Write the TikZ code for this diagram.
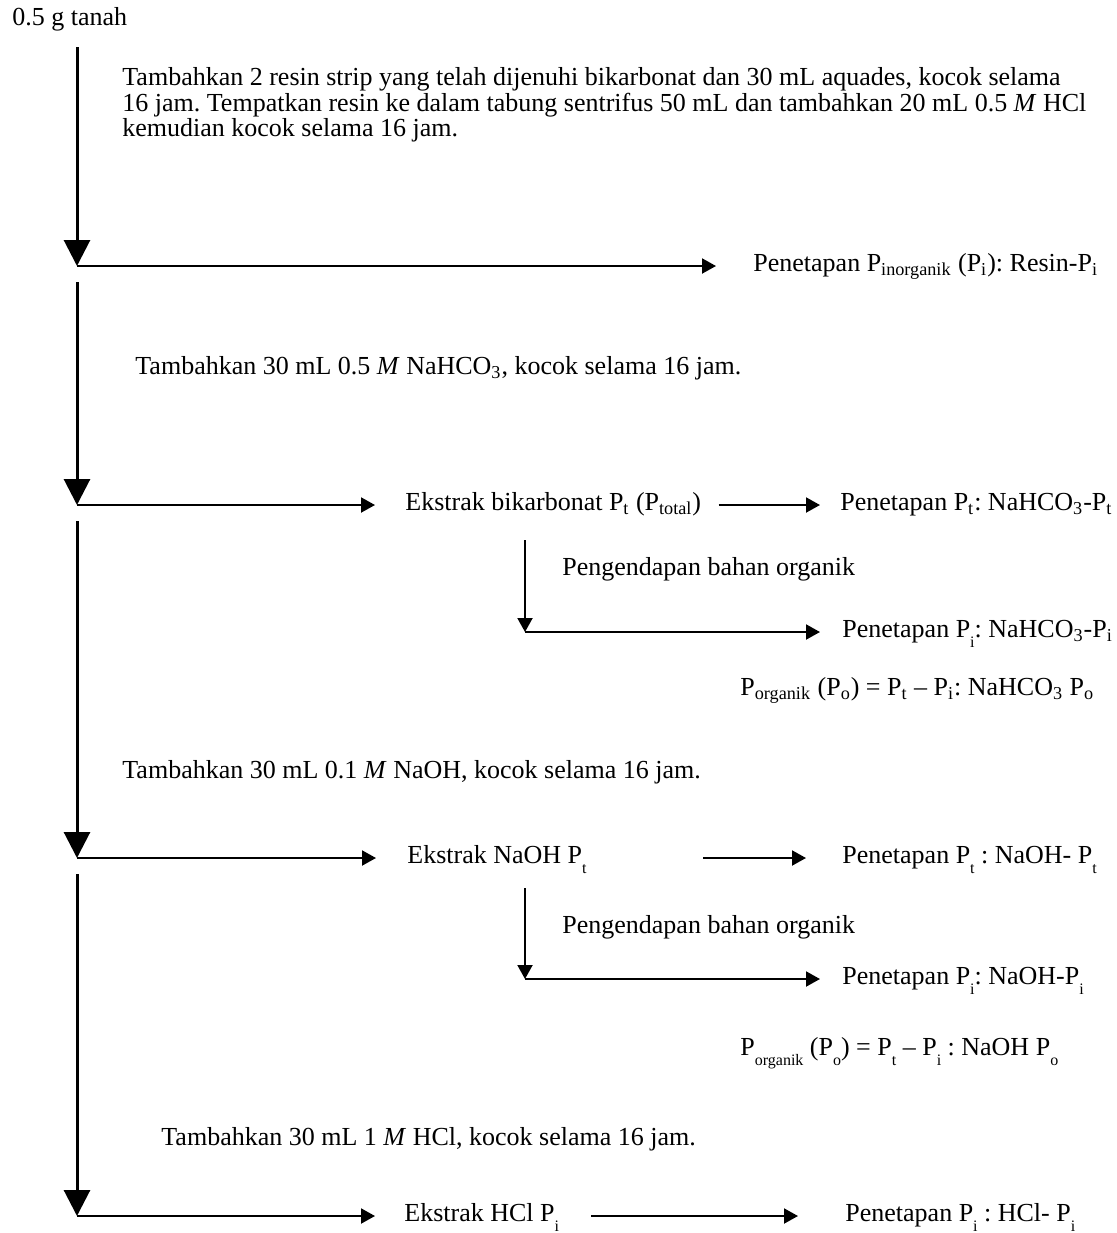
\documentclass[tikz,border=0pt]{standalone}
\usepackage{fontspec}
\setmainfont{Liberation Serif}
\usetikzlibrary{arrows.meta, positioning}
\frenchspacing

\newcommand{\lsub}[1]{\raisebox{-0.8ex}{\footnotesize #1}}

\begin{document}
\begin{tikzpicture}[
  x=0.5pt, y=-0.5pt,
  txt/.style={anchor=west, inner sep=0pt, font=\fontsize{13pt}{12.5pt}\selectfont, text height=8.5pt, text depth=3pt},
  para/.style={anchor=west, inner sep=0pt, align=left, font=\fontsize{13pt}{12.7pt}\selectfont},
  mainarrow/.style={line width=1.5pt, -{Triangle[width=13pt, length=13pt]}},
  arrow/.style={line width=1pt, -{Triangle[width=7.5pt, length=7pt]}}
]
\useasboundingbox (0,0) rectangle (1117,1233);

% Nodes
\node[txt] (soil) at (12,20) {0.5 g tanah};
\node[para] (addresin) at (122,105) {Tambahkan 2 resin strip yang telah dijenuhi bikarbonat dan 30 mL aquades, kocok selama\\16 jam. Tempatkan resin ke dalam tabung sentrifus 50 mL dan tambahkan 20 mL 0.5 \textit{M} HCl\\kemudian kocok selama 16 jam.};
\node[txt] (resinpi) at (753,266) {Penetapan P\textsubscript{inorganik} (P\textsubscript{i}): Resin-P\textsubscript{i}};
\node[txt] (addbic) at (135,369) {Tambahkan 30 mL 0.5 \textit{M} NaHCO\textsubscript{3}, kocok selama 16 jam.};
\node[txt] (bic) at (405,505) {Ekstrak bikarbonat P\textsubscript{t} (P\textsubscript{total})};
\node[txt] (bicpt) at (840,505) {Penetapan P\textsubscript{t}: NaHCO\textsubscript{3}-P\textsubscript{t}};
\node[txt] (precbic) at (562,570) {Pengendapan bahan organik};
\node[txt] (bicpi) at (842,632) {Penetapan P\lsub{i}: NaHCO\textsubscript{3}-P\textsubscript{i}};
\node[txt] (bicpo) at (740,690) {P\textsubscript{organik} (P\textsubscript{o}) = P\textsubscript{t} -- P\textsubscript{i}: NaHCO\textsubscript{3} P\textsubscript{o}};
\node[txt] (addnaoh) at (122,773) {Tambahkan 30 mL 0.1 \textit{M} NaOH, kocok selama 16 jam.};
\node[txt] (naoh) at (407,858) {Ekstrak NaOH P\lsub{t}};
\node[txt] (naohpt) at (842,858) {Penetapan P\lsub{t} : NaOH- P\lsub{t}};
\node[txt] (precnaoh) at (562,928) {Pengendapan bahan organik};
\node[txt] (naohpi) at (842,979) {Penetapan P\lsub{i}: NaOH-P\lsub{i}};
\node[txt] (naohpo) at (740,1050) {P\lsub{organik} (P\lsub{o}) = P\lsub{t} -- P\lsub{i} : NaOH P\lsub{o}};
\node[txt] (addhcl) at (161,1140) {Tambahkan 30 mL 1 \textit{M} HCl, kocok selama 16 jam.};
\node[txt] (hcl) at (404,1216) {Ekstrak HCl P\lsub{i}};
\node[txt] (hclpi) at (845,1216) {Penetapan P\lsub{i} : HCl- P\lsub{i}};

% Corners
\coordinate (m1) at (77,47);
\coordinate (k1) at (77,266);
\coordinate (m2) at (77,282);
\coordinate (k2) at (77,505);
\coordinate (m3) at (77,521);
\coordinate (k3) at (77,858);
\coordinate (m4) at (77,874);
\coordinate (k4) at (77,1216);
\coordinate (sb1) at (525,540);
\coordinate (kb1) at (525,632);
\coordinate (sb2) at (525,888);
\coordinate (kb2) at (525,979);

% Pointers
\draw[mainarrow] (m1) -- (k1);
\draw[arrow, shorten >=18.5pt] (k1) -- (resinpi);
\draw[mainarrow] (m2) -- (k2);
\draw[arrow, shorten >=15pt] (k2) -- (bic);
\draw[arrow, shorten <=8.5pt, shorten >=10pt] (bic) -- (bicpt);
\draw[arrow] (sb1) -- (kb1);
\draw[arrow, shorten >=11pt] (kb1) -- (bicpi);
\draw[mainarrow] (m3) -- (k3);
\draw[arrow, shorten >=15.5pt] (k3) -- (naoh);
\draw[arrow, shorten <=58pt, shorten >=18pt] (naoh) -- (naohpt);
\draw[arrow] (sb2) -- (kb2);
\draw[arrow, shorten >=11pt] (kb2) -- (naohpi);
\draw[mainarrow] (m4) -- (k4);
\draw[arrow, shorten >=14.5pt] (k4) -- (hcl);
\draw[arrow, shorten <=16pt, shorten >=23.5pt] (hcl) -- (hclpi);
\end{tikzpicture}
\end{document}
